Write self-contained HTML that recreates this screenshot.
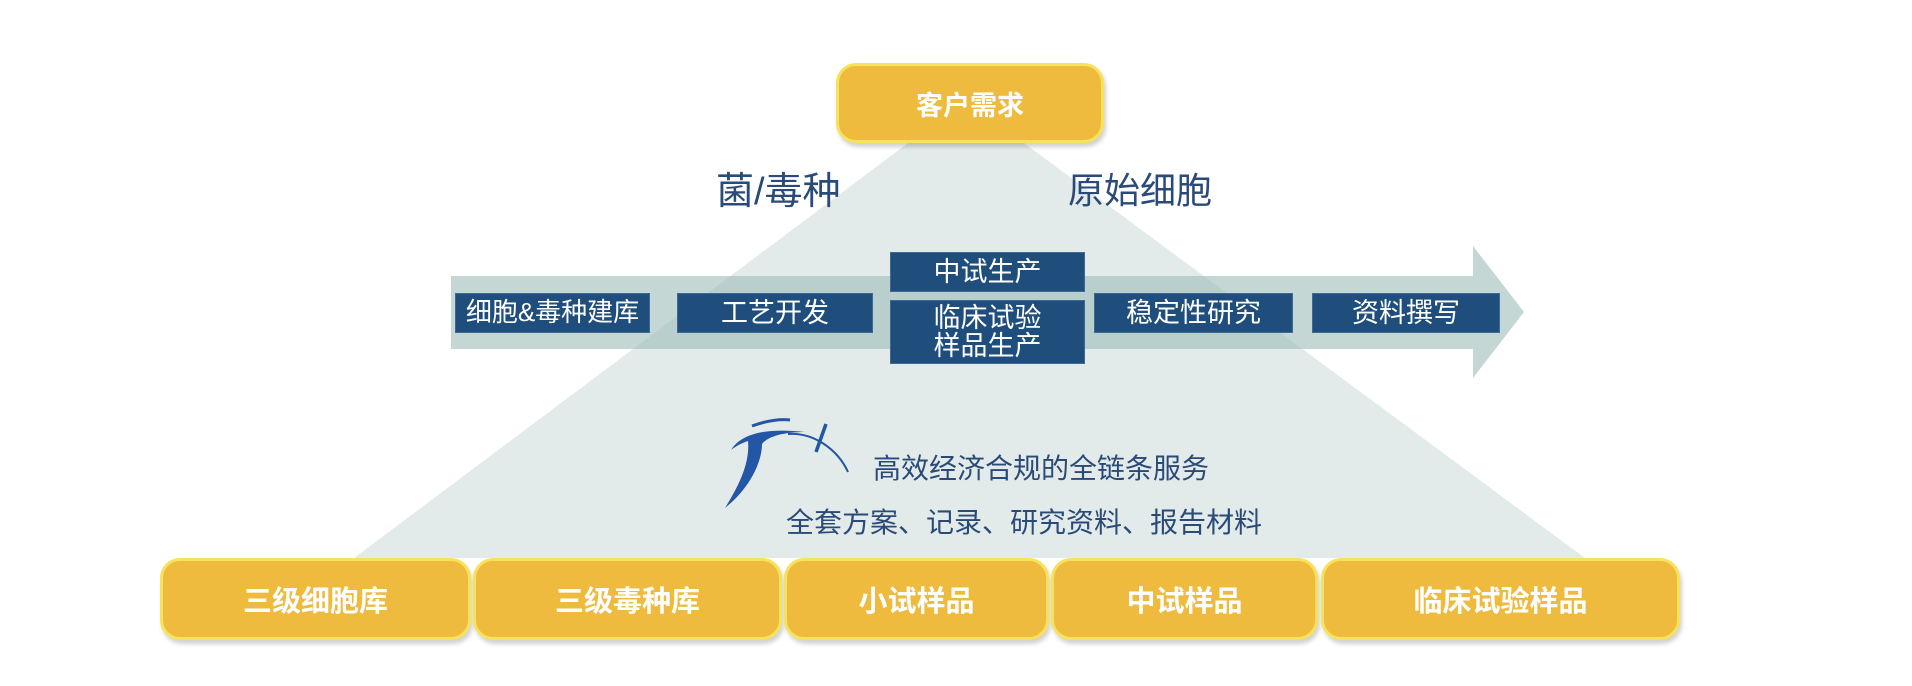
<!DOCTYPE html>
<html><head><meta charset="utf-8"><style>
body{margin:0;width:1912px;height:686px;background:#fff;position:relative;overflow:hidden;font-family:"Liberation Sans","Noto Sans CJK SC",sans-serif}
.a{position:absolute}
.b{position:absolute;background:#1f4e7d;color:#fff;font-size:27px;display:flex;align-items:center;justify-content:center;text-align:center;line-height:1.05;border:1px solid #3d6a95;box-sizing:border-box;white-space:nowrap}
.y{position:absolute;background:#efbb3f;border:3px solid #f7e25c;border-radius:20px;box-sizing:border-box;color:#fff;font-weight:bold;font-size:29px;display:flex;align-items:center;justify-content:center;box-shadow:2px 4px 4px rgba(0,0,0,.18)}
.t{position:absolute;color:#2a4a78;white-space:nowrap}
</style></head><body>
<svg class="a" style="left:0;top:0" width="1912" height="686">
<polygon points="908,143 1024,143 1585,558 354,558" fill="#e3ebea"/>
<polygon points="451,276 1473,276 1473,246 1524,312 1473,378 1473,349 451,349" fill="#9fbfbc" opacity="0.62"/>
<path d="M752,426 C768,420 782,419 790,420" stroke="#2356a5" stroke-width="3" fill="none"/>
<path d="M731,450 C742,432 770,428 805,432 C785,432 768,436 762,444 C762,462 750,488 725,508 C740,484 750,462 748,441 C742,443 736,446 731,450 Z" fill="#2356a5"/>
<path d="M788,434 C814,432 838,450 848,472" stroke="#2356a5" stroke-width="2" fill="none"/>
<path d="M826,424 L816,452" stroke="#2356a5" stroke-width="3.5" fill="none"/>
</svg>
<div class="y" style="left:836px;top:63px;width:268px;height:80px;font-size:27px">客户需求</div>
<div class="t" style="left:716px;top:160px;font-size:38px">菌/毒种</div>
<div class="t" style="left:1068px;top:162px;font-size:36px">原始细胞</div>
<div class="b" style="left:455px;top:293px;width:195px;height:40px;font-size:26px">细胞&amp;毒种建库</div>
<div class="b" style="left:677px;top:293px;width:196px;height:40px">工艺开发</div>
<div class="b" style="left:890px;top:252px;width:195px;height:40px">中试生产</div>
<div class="b" style="left:890px;top:300px;width:195px;height:64px">临床试验<br>样品生产</div>
<div class="b" style="left:1094px;top:293px;width:199px;height:40px">稳定性研究</div>
<div class="b" style="left:1312px;top:293px;width:188px;height:40px">资料撰写</div>
<div class="t" style="left:873px;top:447px;font-size:28px">高效经济合规的全链条服务</div>
<div class="t" style="left:786px;top:501px;font-size:28px">全套方案、记录、研究资料、报告材料</div>
<div class="y" style="left:160px;top:558px;width:311px;height:82px">三级细胞库</div>
<div class="y" style="left:473px;top:558px;width:309px;height:82px">三级毒种库</div>
<div class="y" style="left:784px;top:558px;width:265px;height:82px">小试样品</div>
<div class="y" style="left:1051px;top:558px;width:267px;height:82px">中试样品</div>
<div class="y" style="left:1321px;top:558px;width:359px;height:82px">临床试验样品</div>
</body></html>
